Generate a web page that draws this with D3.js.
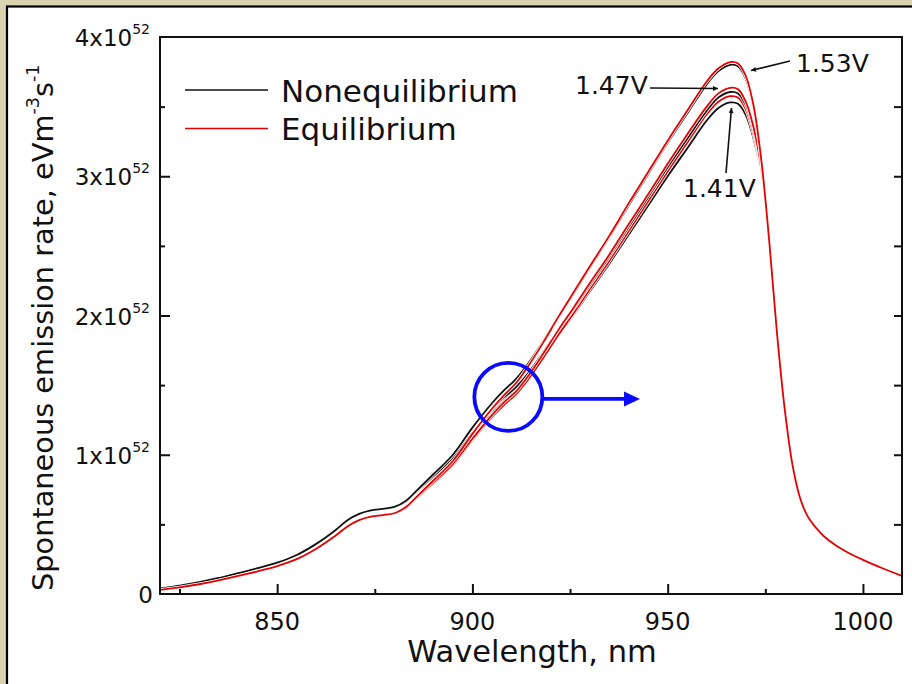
<!DOCTYPE html>
<html>
<head>
<meta charset="utf-8">
<script src="https://cdn.jsdelivr.net/npm/d3@7/dist/d3.min.js"></script>
<style>
  body { margin: 0; background: #d9d4ae; overflow: hidden; }
  svg { display: block; }
  text { font-family: "DejaVu Sans", Verdana, sans-serif; fill: #111; }
</style>
</head>
<body>
<div id="chart"></div>
<script>
/* data, values in units of 1e52 eV^-1 m^-3 s^-1 */
const wavelength = [820, 825, 830, 835, 840, 845, 850, 855, 860, 865, 868, 871, 874, 877, 880, 883, 886, 890, 895, 900,
    905, 908, 911, 914, 918, 922, 926, 930, 935, 940, 945, 950, 955, 960, 963, 966, 968, 970, 972, 974,
    976, 978, 980, 982, 984, 986, 988, 990, 993, 996, 1000, 1005, 1010]

const noneq_141 = [0.04, 0.06, 0.085, 0.115, 0.15, 0.185, 0.225, 0.28, 0.36, 0.46, 0.53, 0.575, 0.60, 0.612, 0.625, 0.665, 0.74, 0.84, 0.97, 1.15,
    1.31, 1.39, 1.46, 1.55, 1.70, 1.86, 2.01, 2.17, 2.37, 2.58, 2.79, 3.00, 3.20, 3.40, 3.49, 3.53, 3.52, 3.44, 3.27, 3.02,
    2.50, 1.86, 1.32, 0.92, 0.68, 0.55, 0.475, 0.415, 0.35, 0.30, 0.245, 0.185, 0.13]
const eq_141 = [0.03, 0.048, 0.07, 0.097, 0.13, 0.163, 0.20, 0.25, 0.325, 0.42, 0.485, 0.53, 0.555, 0.567, 0.58, 0.62, 0.695, 0.795, 0.925, 1.105,
    1.27, 1.355, 1.43, 1.53, 1.69, 1.86, 2.02, 2.185, 2.39, 2.605, 2.82, 3.035, 3.24, 3.445, 3.535, 3.575, 3.565, 3.48, 3.30, 3.035,
    2.505, 1.86, 1.32, 0.92, 0.68, 0.55, 0.475, 0.415, 0.35, 0.30, 0.245, 0.185, 0.13]

const noneq_147 = [0.04, 0.06, 0.085, 0.115, 0.15, 0.185, 0.225, 0.28, 0.36, 0.46, 0.53, 0.575, 0.60, 0.612, 0.625, 0.665, 0.745, 0.845, 0.98, 1.16,
    1.325, 1.41, 1.48, 1.575, 1.73, 1.895, 2.05, 2.215, 2.42, 2.635, 2.85, 3.065, 3.27, 3.47, 3.565, 3.605, 3.595, 3.51, 3.33, 3.04,
    2.51, 1.86, 1.32, 0.92, 0.68, 0.55, 0.475, 0.415, 0.35, 0.30, 0.245, 0.185, 0.13]
const eq_147 = [0.03, 0.048, 0.07, 0.097, 0.13, 0.163, 0.20, 0.25, 0.325, 0.42, 0.485, 0.53, 0.555, 0.567, 0.58, 0.62, 0.70, 0.80, 0.935, 1.115,
    1.285, 1.375, 1.45, 1.555, 1.72, 1.895, 2.06, 2.23, 2.435, 2.655, 2.87, 3.09, 3.30, 3.50, 3.595, 3.635, 3.625, 3.535, 3.35, 3.05,
    2.515, 1.86, 1.32, 0.92, 0.68, 0.55, 0.475, 0.415, 0.35, 0.30, 0.245, 0.185, 0.13]

const noneq_153 = [0.04, 0.06, 0.085, 0.115, 0.15, 0.185, 0.225, 0.28, 0.36, 0.46, 0.53, 0.575, 0.60, 0.612, 0.625, 0.67, 0.75, 0.86, 1.00, 1.195,
    1.37, 1.46, 1.54, 1.645, 1.81, 1.99, 2.16, 2.34, 2.56, 2.79, 3.015, 3.24, 3.45, 3.66, 3.755, 3.80, 3.79, 3.70, 3.49, 3.10,
    2.53, 1.87, 1.32, 0.92, 0.68, 0.55, 0.475, 0.415, 0.35, 0.30, 0.245, 0.185, 0.13]
const eq_153 = [0.03, 0.048, 0.07, 0.097, 0.13, 0.163, 0.20, 0.25, 0.325, 0.42, 0.485, 0.53, 0.555, 0.567, 0.58, 0.625, 0.705, 0.815, 0.955, 1.15,
    1.33, 1.425, 1.51, 1.625, 1.80, 1.99, 2.17, 2.35, 2.57, 2.805, 3.03, 3.255, 3.47, 3.68, 3.775, 3.82, 3.81, 3.72, 3.505, 3.11,
    2.535, 1.87, 1.32, 0.92, 0.68, 0.55, 0.475, 0.415, 0.35, 0.30, 0.245, 0.185, 0.13]

const x_major = [850, 900, 950, 1000]
const x_minor = [825, 875, 925, 975]
const y_major = [0, 1, 2, 3, 4]
const y_minor = [0.5, 1.5, 2.5, 3.5]

const legend_labels = ['Nonequilibrium', 'Equilibrium']
const voltage_labels = ['1.53V', '1.47V', '1.41V']

/**------------------------------------------------------------------------
 *                           set up
 *------------------------------------------------------------------------**/
const width = 912, height = 684
const plot = { left: 160, right: 902, top: 37, bottom: 594 }
const black = '#111111', red = '#e60000', blue = '#0a0aff'

let svg = d3.select('#chart')
    .append('svg')
    .attr('width', width)
    .attr('height', height)

// white panel with black frame, background shows through on top/left
svg.append('rect')
    .attr('x', 7).attr('y', 6.5)
    .attr('width', width + 20).attr('height', height + 20)
    .attr('fill', 'white')
    .attr('stroke', '#000')
    .attr('stroke-width', 2.2)

let xScale = d3.scaleLinear().domain([820, 1010]).range([plot.left, plot.right])
let yScale = d3.scaleLinear().domain([0, 4]).range([plot.bottom, plot.top])

let defs = svg.append('defs')
defs.append('marker')
    .attr('id', 'head')
    .attr('viewBox', '0 0 10 10')
    .attr('refX', 10).attr('refY', 5)
    .attr('markerWidth', 9).attr('markerHeight', 5)
    .attr('markerUnits', 'userSpaceOnUse')
    .attr('orient', 'auto')
    .append('path').attr('d', 'M0,0 L10,5 L0,10 z').attr('fill', black)
defs.append('clipPath').attr('id', 'plotclip')
    .append('rect')
    .attr('x', plot.left).attr('y', plot.top)
    .attr('width', plot.right - plot.left).attr('height', plot.bottom - plot.top)

/**------------------------------------------------------------------------
 *                           curves
 *------------------------------------------------------------------------**/
const series = [
    { values: noneq_141, color: black },
    { values: eq_141, color: red },
    { values: noneq_147, color: black },
    { values: eq_147, color: red },
    { values: noneq_153, color: black },
    { values: eq_153, color: red }
]

let line = d3.line()
    .x((d, i) => xScale(wavelength[i]))
    .y(d => yScale(d))
    .curve(d3.curveCatmullRom.alpha(0.5))

let curves = svg.append('g').attr('clip-path', 'url(#plotclip)')
series.forEach(s => {
    // thin white halo so neighbouring lines stay apart like in the original
    curves.append('path')
        .attr('d', line(s.values))
        .attr('fill', 'none')
        .attr('stroke', 'white')
        .attr('stroke-width', 3.4)
    curves.append('path')
        .attr('d', line(s.values))
        .attr('fill', 'none')
        .attr('stroke', s.color)
        .attr('stroke-width', 1.8)
})

/**------------------------------------------------------------------------
 *                           axes
 *------------------------------------------------------------------------**/
function tick_axis(axis, transform) {
    let g = svg.append('g').attr('transform', transform).call(axis)
    g.select('.domain').remove()
    g.selectAll('line').attr('stroke', '#111').attr('stroke-width', 2)
    g.selectAll('text').remove()
}
tick_axis(d3.axisBottom(xScale).tickValues(x_major).tickSize(-10), `translate(0,${plot.bottom})`)
tick_axis(d3.axisBottom(xScale).tickValues(x_minor).tickSize(-5), `translate(0,${plot.bottom})`)
tick_axis(d3.axisLeft(yScale).tickValues(y_major.slice(1, 4)).tickSize(-10), `translate(${plot.left},0)`)
tick_axis(d3.axisLeft(yScale).tickValues(y_minor).tickSize(-5), `translate(${plot.left},0)`)
tick_axis(d3.axisRight(yScale).tickValues(y_major.slice(1, 4).concat(y_minor)).tickSize(-8), `translate(${plot.right},0)`)

svg.append('rect')
    .attr('x', plot.left).attr('y', plot.top)
    .attr('width', plot.right - plot.left).attr('height', plot.bottom - plot.top)
    .attr('fill', 'none')
    .attr('stroke', '#111')
    .attr('stroke-width', 2)

// x tick labels
svg.selectAll('.xlab').data(x_major).enter()
    .append('text')
    .attr('x', d => xScale(d))
    .attr('y', plot.bottom + 36)
    .attr('text-anchor', 'middle')
    .attr('font-size', 24)
    .text(d => d)

// y tick labels, 0 and Nx10^52
y_major.forEach(v => {
    let t = svg.append('text')
        .attr('x', 150)
        .attr('y', yScale(v) + 9)
        .attr('text-anchor', 'end')
        .attr('font-size', 23)
    if (v == 0) {
        t.attr('x', 153).text('0')
    } else {
        t.append('tspan').text(v + 'x10')
        t.append('tspan').attr('font-size', 14).attr('dy', -12).text('52')
    }
})

// axis titles
svg.append('text')
    .attr('x', 532).attr('y', 662)
    .attr('text-anchor', 'middle')
    .attr('font-size', 30.5)
    .text('Wavelength, nm')

let ytitle = svg.append('text')
    .attr('transform', 'translate(53,591) rotate(-90)')
    .attr('font-size', 28.8)
ytitle.append('tspan').text('Spontaneous emission rate, eVm')
ytitle.append('tspan').attr('font-size', 17.5).attr('dy', -14).text('-3')
ytitle.append('tspan').attr('dy', 14).text('s')
ytitle.append('tspan').attr('font-size', 17.5).attr('dy', -14).text('-1')

/**------------------------------------------------------------------------
 *                           legend
 *------------------------------------------------------------------------**/
const legend_colors = [black, red]
legend_labels.forEach((lab, i) => {
    let ly = 90 + i * 38.5
    svg.append('line')
        .attr('x1', 185).attr('x2', 268)
        .attr('y1', ly).attr('y2', ly)
        .attr('stroke', legend_colors[i])
        .attr('stroke-width', 1.7)
    svg.append('text')
        .attr('x', 281).attr('y', ly + 11.5)
        .attr('font-size', 31)
        .text(lab)
})

/**------------------------------------------------------------------------
 *                           annotations
 *------------------------------------------------------------------------**/
// 1.53V
svg.append('text').attr('x', 796).attr('y', 72).attr('font-size', 25).text(voltage_labels[0])
svg.append('line')
    .attr('x1', 790).attr('y1', 61).attr('x2', 751).attr('y2', 70.5)
    .attr('stroke', black).attr('stroke-width', 1.6)
    .attr('marker-end', 'url(#head)')
// 1.47V
svg.append('text').attr('x', 575).attr('y', 94).attr('font-size', 25).text(voltage_labels[1])
svg.append('line')
    .attr('x1', 650).attr('y1', 88).attr('x2', 718).attr('y2', 88.5)
    .attr('stroke', black).attr('stroke-width', 1.6)
    .attr('marker-end', 'url(#head)')
// 1.41V
svg.append('text').attr('x', 683).attr('y', 197).attr('font-size', 25).text(voltage_labels[2])
svg.append('line')
    .attr('x1', 726).attr('y1', 173).attr('x2', 731.5).attr('y2', 108)
    .attr('stroke', black).attr('stroke-width', 1.6)
    .attr('marker-end', 'url(#head)')

// blue circle and arrow around the kink near 909 nm
const cx = xScale(909.2), cy = yScale(1.415), r = 34
svg.append('circle')
    .attr('cx', cx).attr('cy', cy).attr('r', r)
    .attr('fill', 'none')
    .attr('stroke', blue)
    .attr('stroke-width', 3.8)
svg.append('line')
    .attr('x1', cx + r).attr('y1', cy + 2)
    .attr('x2', 626).attr('y2', cy + 2)
    .attr('stroke', blue)
    .attr('stroke-width', 3.8)
svg.append('path')
    .attr('d', `M${624},${cy + 2 - 7.5} L${640},${cy + 2} L${624},${cy + 2 + 7.5} z`)
    .attr('fill', blue)
</script>
</body>
</html>
